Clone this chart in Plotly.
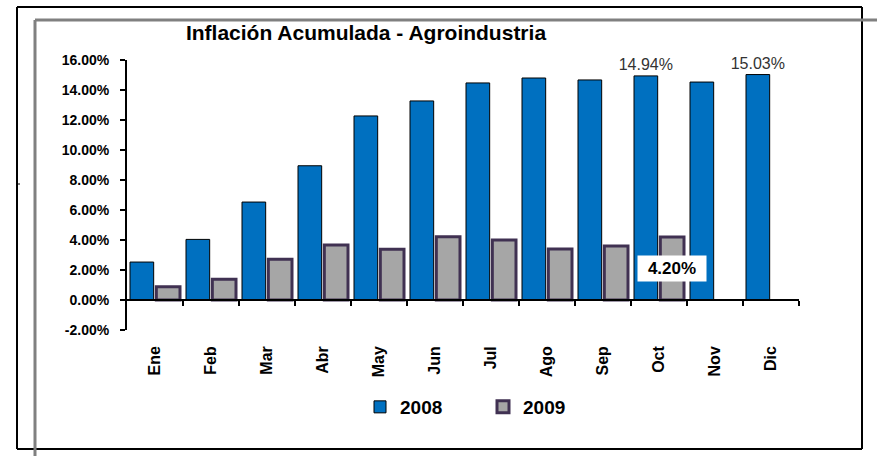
import plotly.graph_objects as go

months = ["Ene", "Feb", "Mar", "Abr", "May", "Jun", "Jul", "Ago", "Sep", "Oct", "Nov", "Dic"]
y2008 = [2.53, 4.04, 6.53, 8.95, 12.27, 13.27, 14.47, 14.80, 14.67, 14.94, 14.53, 15.03]
y2009 = [0.89, 1.38, 2.71, 3.67, 3.38, 4.22, 4.00, 3.40, 3.60, 4.20, None, None]
labels2008 = ["", "", "", "", "", "", "", "", "", "14.94%", "", "15.03%"]
title_text = "Inflación Acumulada - Agroindustria"
yticks = [-2, 0, 2, 4, 6, 8, 10, 12, 14, 16]

FONT = "Liberation Sans, Arial, sans-serif"
W, H = 877, 456
L, R, T, B = 127, 799, 60, 330  # plot area in px
YMIN, YMAX = -2, 16


def px(x):
    return (x - L) / (R - L)


def py(y):
    return (B - y) / (B - T)


fig = go.Figure()
fig.add_trace(go.Bar(
    name="2008", x=months, y=y2008,
    marker=dict(color="#0070C0", line=dict(color="#000000", width=1)),
    text=labels2008, textposition="outside", constraintext="none",
    textfont=dict(family=FONT, size=16, color="#333333"),
    cliponaxis=False, hoverinfo="skip",
))
fig.add_trace(go.Bar(
    name="2009", x=months, y=y2009,
    marker=dict(color="#A6A6A6", line=dict(color="#403152", width=3)),
    hoverinfo="skip",
))
# empty helper trace so the category-boundary axis at 0 is drawn
fig.add_trace(go.Scatter(x=[], y=[], xaxis="x2", yaxis="y", showlegend=False,
                         hoverinfo="skip", mode="markers"))

# label of Oct 2009 value, centered inside the bar with white box
idx = months.index("Oct")
fig.add_annotation(
    x=months[idx], y=y2009[idx] / 2, xref="x", yref="y",
    text="<b>%.2f%%</b>" % y2009[idx], showarrow=False, xshift=13,
    font=dict(family=FONT, size=17, color="#000000"),
    bgcolor="#FFFFFF", width=66, height=23,
)

# frame lines
line_k = dict(color="#000000", width=2)
line_g = dict(color="#808080", width=3)
shapes = [
    dict(type="line", xref="paper", yref="paper", x0=px(17), x1=px(862), y0=py(7), y1=py(7), line=line_k),
    dict(type="line", xref="paper", yref="paper", x0=px(862), x1=px(862), y0=py(7), y1=py(449), line=line_k),
    dict(type="line", xref="paper", yref="paper", x0=px(17), x1=px(862), y0=py(449), y1=py(449), line=line_k),
    dict(type="line", xref="paper", yref="paper", x0=px(17), x1=px(17), y0=py(7), y1=py(449), line=line_k),
    dict(type="line", xref="paper", yref="paper", x0=px(35), x1=px(880), y0=py(20), y1=py(20), line=line_g),
    dict(type="line", xref="paper", yref="paper", x0=px(35), x1=px(35), y0=py(20), y1=py(460), line=line_g),
    dict(type="line", xref="paper", yref="paper", x0=px(17), x1=px(20), y0=py(184), y1=py(184), line=dict(color="#000000", width=1)),
]

zero_pos = (0 - YMIN) / (YMAX - YMIN)

fig.update_layout(
    width=W, height=H,
    margin=dict(l=L, r=W - R, t=T, b=H - B, pad=0),
    paper_bgcolor="#FFFFFF", plot_bgcolor="#FFFFFF",
    barmode="group", bargap=0.06, bargroupgap=0.1,
    font=dict(family=FONT, color="#000000"),
    hovermode=False,
    title=dict(text="<b>" + title_text + "</b>", x=366 / W, xanchor="center",
               y=1 - 33 / H, yanchor="middle", xref="container", yref="container",
               font=dict(family=FONT, size=21, color="#000000")),
    xaxis=dict(type="category", categoryorder="array", categoryarray=months,
               showline=False, ticks="", showgrid=False, zeroline=False,
               tickangle=-90, ticklabelstandoff=12, automargin=False,
               tickfont=dict(family=FONT, size=16, color="#000000", weight="bold")),
    xaxis2=dict(overlaying="x", anchor="free", position=zero_pos, range=[-0.5, 11.5],
                type="linear", automargin=False,
                showline=True, linecolor="#000000", linewidth=2,
                ticks="outside", ticklen=5, tickwidth=2, tickcolor="#000000",
                tickmode="array", tickvals=[i + 0.5 for i in range(12)],
                showticklabels=False, showgrid=False, zeroline=False),
    yaxis=dict(range=[YMIN, YMAX], tickmode="array", tickvals=yticks,
               ticktext=["%.2f%%" % v for v in yticks], automargin=False,
               showline=True, linecolor="#000000", linewidth=2,
               ticks="outside", ticklen=5, tickwidth=2, tickcolor="#000000",
               showgrid=False, zeroline=False, ticklabelstandoff=8,
               tickfont=dict(family=FONT, size=14, color="#000000", weight="bold")),
    legend=dict(orientation="h", x=px(360), y=py(407), xanchor="left", yanchor="middle",
                font=dict(family=FONT, size=19, color="#000000", weight="bold"),
                entrywidth=78, entrywidthmode="pixels", bgcolor="rgba(0,0,0,0)"),
    shapes=shapes,
)

fig.write_html("out.html", config={"displayModeBar": False},
               post_script="document.body.style.margin='0px';")
